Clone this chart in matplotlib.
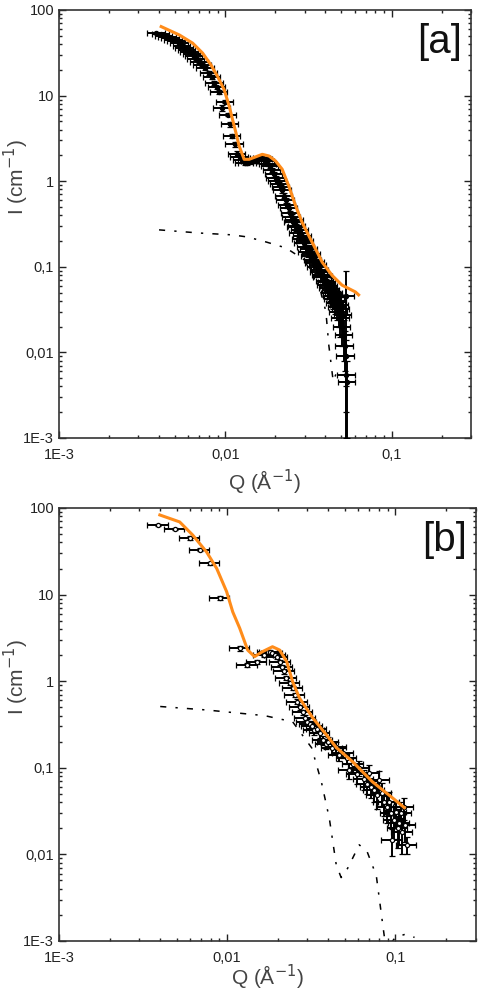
import matplotlib
matplotlib.use("Agg")
import matplotlib.pyplot as plt
from matplotlib.ticker import FixedLocator, FixedFormatter, LogLocator, NullFormatter

plt.rcParams['font.family'] = ['Liberation Sans', 'DejaVu Sans']

# ---- panel [a] ----
qa = [0.00386, 0.0041, 0.0043, 0.0045, 0.0047, 0.0049, 0.0051, 0.0053, 0.0055, 0.0057,
      0.0059, 0.0061, 0.0063, 0.0065, 0.0067, 0.0070, 0.0073, 0.0076, 0.0080, 0.0083,
      0.0086, 0.0089, 0.0092, 0.0096, 0.0100, 0.0104, 0.0107, 0.0110, 0.0114, 0.0118,
      0.0122, 0.0126, 0.0131, 0.0136, 0.0141, 0.0146, 0.0151, 0.0156, 0.0161, 0.0166,
      0.0171, 0.0176, 0.0181, 0.0186, 0.0191, 0.0196, 0.0201, 0.0206, 0.0211, 0.0216,
      0.0221, 0.0226, 0.0231, 0.0236, 0.0241, 0.0246, 0.0251, 0.0256, 0.0261, 0.0266,
      0.0271, 0.0276, 0.0281, 0.0286, 0.0291, 0.0296, 0.0301, 0.0307, 0.0313, 0.0319,
      0.0325, 0.0331, 0.0337, 0.0343, 0.0349, 0.0355, 0.0361, 0.0367, 0.0373, 0.0379,
      0.0385, 0.0391, 0.0397, 0.0403, 0.0409, 0.0415, 0.0421, 0.0427, 0.0433, 0.0439,
      0.0445, 0.0451, 0.0457, 0.0463, 0.0469, 0.0475, 0.0481, 0.0487, 0.0493, 0.0499,
      0.0505, 0.0511, 0.0517, 0.0523, 0.0529, 0.0530, 0.0535, 0.0541]
Ia = [54, 52, 50, 48, 47, 45, 43, 41, 38, 36,
      34, 32, 31, 29, 27, 25, 23, 21, 18.5, 16.5,
      14, 12.5, 11, 7.2, 8.5, 6, 4.6, 3.4, 2.7, 2.1,
      1.9, 1.75, 1.65, 1.65, 1.7, 1.72, 1.75, 1.8, 1.85, 1.85,
      1.8, 1.7, 1.6, 1.5, 1.35, 1.2, 1.1, 1.0, 0.92, 0.85,
      0.78, 0.68, 0.6, 0.52, 0.48, 0.42, 0.38, 0.33, 0.35, 0.29,
      0.3, 0.25, 0.27, 0.21, 0.23, 0.19, 0.2, 0.17, 0.15, 0.16,
      0.135, 0.14, 0.12, 0.11, 0.115, 0.1, 0.105, 0.088, 0.092, 0.08,
      0.075, 0.078, 0.068, 0.062, 0.066, 0.056, 0.06, 0.05, 0.054, 0.046,
      0.042, 0.05, 0.038, 0.044, 0.034, 0.04, 0.03, 0.036, 0.025, 0.032,
      0.02, 0.027, 0.016, 0.012, 0.009, 0.045, 0.0055, 0.0045]
dIa = [2, 2, 2, 2, 2, 2, 2, 2, 2, 2,
       1.5, 1.5, 1.5, 1.5, 1.2, 1.2, 1, 1, 1, 0.8,
       0.8, 0.6, 0.6, 0.6, 0.4, 0.3, 0.3, 0.2, 0.2, 0.15,
       0.1, 0.1, 0.1, 0.1, 0.1, 0.1, 0.1, 0.1, 0.1, 0.1,
       0.1, 0.1, 0.1, 0.08, 0.08, 0.07, 0.06, 0.06, 0.05, 0.05,
       0.05, 0.04, 0.04, 0.04, 0.04, 0.03, 0.03, 0.03, 0.03, 0.03,
       0.03, 0.03, 0.03, 0.02, 0.02, 0.02, 0.02, 0.02, 0.02, 0.02,
       0.02, 0.02, 0.015, 0.015, 0.015, 0.015, 0.015, 0.012, 0.012, 0.012,
       0.012, 0.012, 0.012, 0.01, 0.01, 0.01, 0.01, 0.01, 0.01, 0.01,
       0.01, 0.012, 0.01, 0.012, 0.01, 0.012, 0.01, 0.012, 0.01, 0.012,
       0.008, 0.012, 0.008, 0.006, 0.005, 0.044, 0.0035, 0.0035]

qa_fit = [0.00412, 0.00531, 0.00637, 0.00731, 0.0082, 0.0090, 0.00986, 0.01057, 0.01107,
          0.0116, 0.01213, 0.0130, 0.01393, 0.0167, 0.01833, 0.0201, 0.0220, 0.0241,
          0.0265, 0.0290, 0.0318, 0.0349, 0.0383, 0.0440, 0.0504, 0.0607, 0.0634]
Ia_fit = [64, 51, 41, 31.4, 22.9, 16.7, 11.7, 7.5, 5.25,
          3.68, 2.57, 1.80, 1.80, 2.06, 1.97, 1.72, 1.38, 0.88,
          0.516, 0.33, 0.231, 0.162, 0.113, 0.079, 0.061, 0.0508, 0.047]

qa_ff = [0.0040, 0.0070, 0.0110, 0.0136, 0.0176, 0.0232, 0.0300, 0.0360, 0.0403, 0.0420,
         0.0446, 0.0470]
Ia_ff = [0.27, 0.248, 0.236, 0.223, 0.195, 0.166, 0.12, 0.07, 0.030, 0.012,
         0.0046, 0.006]

# ---- panel [b] ----
qb = [0.00388, 0.00488, 0.0060, 0.00687, 0.00787, 0.00902, 0.01186, 0.0132, 0.0150, 0.0165,
      0.0174, 0.0180, 0.0186, 0.0193, 0.0199, 0.0206, 0.0213, 0.0219, 0.0225, 0.0235,
      0.0245, 0.0252, 0.0260, 0.0270, 0.0281, 0.0290, 0.0298, 0.0310, 0.0320, 0.0330,
      0.0340, 0.0355, 0.0370, 0.0385, 0.0400, 0.0420, 0.0445, 0.0465, 0.0490, 0.0513,
      0.0530, 0.0560, 0.0590, 0.0610, 0.0650, 0.0680, 0.0700, 0.0720, 0.0750, 0.0780,
      0.0800, 0.0830, 0.0860, 0.0890, 0.0920, 0.0940, 0.0960, 0.0980, 0.1010, 0.1030,
      0.1050, 0.1080, 0.1100, 0.1120, 0.1140, 0.1170]
Ib = [64, 57, 45, 33, 23, 9.1, 2.4, 1.54, 1.67, 2.0,
      2.17, 2.2, 2.1, 2.0, 1.9, 1.65, 1.44, 1.3, 1.1, 0.95,
      0.84, 0.7, 0.58, 0.5, 0.44, 0.38, 0.34, 0.32, 0.30, 0.27,
      0.28, 0.25, 0.21, 0.19, 0.2, 0.17, 0.174, 0.14, 0.15, 0.13,
      0.094, 0.11, 0.085, 0.10, 0.075, 0.065, 0.087, 0.06, 0.055, 0.048,
      0.072, 0.051, 0.04, 0.035, 0.04, 0.03, 0.0146, 0.025, 0.031, 0.02,
      0.023, 0.03, 0.018, 0.035, 0.022, 0.013]
dIb = [2, 2, 2, 1.5, 1, 0.5, 0.15, 0.1, 0.1, 0.1,
       0.1, 0.1, 0.1, 0.1, 0.1, 0.1, 0.08, 0.08, 0.06, 0.05,
       0.05, 0.04, 0.04, 0.03, 0.03, 0.03, 0.03, 0.03, 0.03, 0.03,
       0.03, 0.03, 0.025, 0.025, 0.025, 0.025, 0.025, 0.02, 0.02, 0.02,
       0.02, 0.02, 0.02, 0.02, 0.02, 0.015, 0.02, 0.015, 0.015, 0.015,
       0.02, 0.015, 0.012, 0.012, 0.012, 0.01, 0.005, 0.01, 0.01, 0.008,
       0.01, 0.01, 0.008, 0.01, 0.008, 0.003]

qb_fit = [0.00398, 0.00522, 0.00624, 0.00755, 0.00867, 0.00993, 0.0108, 0.01187, 0.01324,
          0.01456, 0.0162, 0.0186, 0.0205, 0.0226, 0.0245, 0.0269, 0.0323, 0.0389, 0.0447,
          0.0556, 0.073, 0.096, 0.113]
Ib_fit = [83, 69, 48.7, 31, 20, 10.8, 6.3, 4.1, 2.29,
          1.92, 2.19, 2.5, 2.29, 1.68, 0.99, 0.64, 0.376, 0.24, 0.17,
          0.118, 0.069, 0.045, 0.0347]

qb_ff = [0.0040, 0.00755, 0.0167, 0.0245, 0.0318, 0.0363, 0.0405, 0.0445, 0.0476, 0.0520,
         0.0610, 0.0680, 0.0770, 0.0837, 0.0880, 0.1000, 0.1150, 0.1300]
Ib_ff = [0.51, 0.465, 0.40, 0.34, 0.17, 0.069, 0.026, 0.0076, 0.0054, 0.0069,
         0.0129, 0.0107, 0.0057, 0.00166, 0.0008, 0.0011, 0.0012, 0.0011]

res_a = 0.12   # relative Q resolution
res_b = 0.14

ylabels = {1e-3: '1E-3', 1e-2: '0,01', 1e-1: '0,1', 1: '1', 10: '10', 100: '100'}
xlabels = {1e-3: '1E-3', 1e-2: '0,01', 1e-1: '0,1'}

fig = plt.figure(figsize=(4.79, 9.90), dpi=100)
axa = fig.add_axes([0.123, 0.5576, 0.860, 0.4323])
axb = fig.add_axes([0.123, 0.0495, 0.870, 0.4374])

panels = [
    (axa, qa, Ia, dIa, res_a, qa_fit, Ia_fit, qa_ff, Ia_ff, '[a]', 'black', -0.070),
    (axb, qb, Ib, dIb, res_b, qb_fit, Ib_fit, qb_ff, Ib_ff, '[b]', 'white', -0.050),
]

for ax, q, I, dI, res, qf, If, qff, Iff, tag, mfc, xly in panels:
    ax.set_xscale('log')
    ax.set_yscale('log')
    ax.plot(qff, Iff, color='black', lw=1.1, linestyle=(0, (4, 6, 1.5, 6)), zorder=2)
    ax.errorbar(q, I, yerr=dI, xerr=[qq * res for qq in q], fmt='o', ms=3,
                mfc=mfc, mec='black', mew=0.9, ecolor='black', elinewidth=1.4,
                capsize=2, capthick=1.0, zorder=3)
    ax.plot(qf, If, color='#ff8c1a', lw=2.2, zorder=4)
    ax.set_xlim(1e-3, 0.3)
    ax.set_ylim(1e-3, 100)
    ax.xaxis.set_major_locator(FixedLocator(list(xlabels)))
    ax.xaxis.set_major_formatter(FixedFormatter(list(xlabels.values())))
    ax.yaxis.set_major_locator(FixedLocator(list(ylabels)))
    ax.yaxis.set_major_formatter(FixedFormatter(list(ylabels.values())))
    ax.xaxis.set_minor_locator(LogLocator(base=10, subs=range(2, 10)))
    ax.yaxis.set_minor_locator(LogLocator(base=10, subs=range(2, 10)))
    ax.xaxis.set_minor_formatter(NullFormatter())
    ax.yaxis.set_minor_formatter(NullFormatter())
    ax.tick_params(which='both', direction='in', top=True, right=True,
                   labelsize=10.5, colors='#222222', width=1.0)
    ax.tick_params(axis='x', which='major', pad=7)
    ax.tick_params(which='major', length=5)
    ax.tick_params(which='minor', length=2.5)
    for s in ax.spines.values():
        s.set_linewidth(1.2)
        s.set_color('#333333')
    ax.set_xlabel('Q (Å$^{-1}$)', fontsize=15, color='#444444')
    ax.xaxis.set_label_coords(0.5, xly)
    ax.set_ylabel('I (cm$^{-1}$)', fontsize=15, color='#444444')
    ax.yaxis.set_label_coords(-0.068, 0.61)
    ax.text(0.925, 0.925, tag, transform=ax.transAxes, fontsize=29,
            ha='center', va='center', color='#111111')

fig.savefig('out.png', dpi=100)
